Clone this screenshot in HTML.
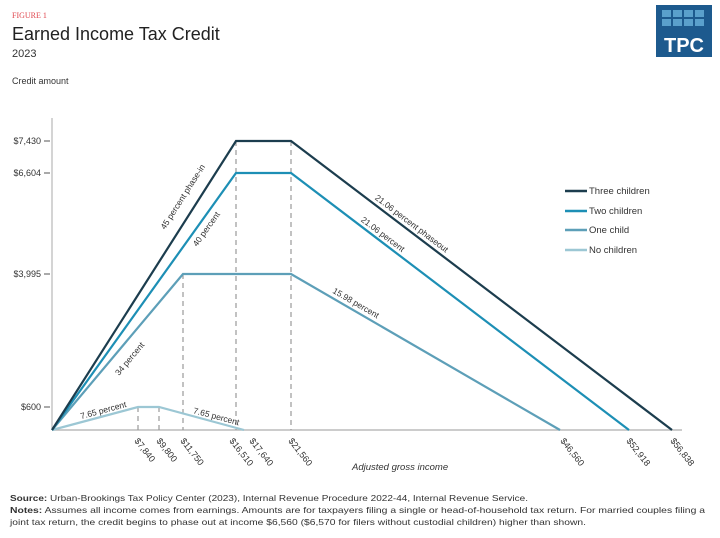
<!DOCTYPE html>
<html><head><meta charset="utf-8"><style>
body{margin:0;background:#fff;}
svg{display:block;font-family:"Liberation Sans",sans-serif;}
</style></head><body>
<svg width="720" height="538" viewBox="0 0 720 538">
<text x="12" y="18" font-size="8" fill="#e0464e" font-family="Liberation Serif,serif">FIGURE 1</text>
<text x="12" y="40" font-size="18" fill="#222">Earned Income Tax Credit</text>
<text x="12" y="57" font-size="11" fill="#333">2023</text>
<text x="12" y="84" font-size="9" fill="#333">Credit amount</text>
<rect x="656" y="5" width="56" height="52" fill="#1d5a8e"/>
<g fill="#5aa0cc">
<rect x="662" y="10" width="9" height="7"/><rect x="673" y="10" width="9" height="7"/><rect x="684" y="10" width="9" height="7"/><rect x="695" y="10" width="9" height="7"/>
<rect x="662" y="19" width="9" height="7"/><rect x="673" y="19" width="9" height="7"/><rect x="684" y="19" width="9" height="7"/><rect x="695" y="19" width="9" height="7"/>
</g>
<text x="684" y="52" font-size="20" font-weight="bold" fill="#fff" text-anchor="middle">TPC</text>
<line x1="52" y1="118" x2="52" y2="430" stroke="#aaa" stroke-width="1"/>
<line x1="52" y1="430" x2="682" y2="430" stroke="#bbb" stroke-width="1.5"/>
<g stroke="#555" stroke-width="1"><line x1="44" y1="141" x2="50" y2="141"/><line x1="44" y1="173" x2="50" y2="173"/><line x1="44" y1="274" x2="50" y2="274"/><line x1="44" y1="407" x2="50" y2="407"/></g>
<g font-size="9" fill="#333" text-anchor="end"><text x="41" y="144">$7,430</text><text x="41" y="176">$6,604</text><text x="41" y="277">$3,995</text><text x="41" y="410">$600</text></g>
<g stroke="#9a9a9a" stroke-dasharray="5,4" stroke-width="1.2">
<line x1="138" y1="407" x2="138" y2="430"/><line x1="159" y1="407" x2="159" y2="430"/><line x1="183" y1="274" x2="183" y2="430"/><line x1="236" y1="141" x2="236" y2="430"/><line x1="291" y1="141" x2="291" y2="430"/>
</g>
<g fill="none" stroke-width="2.2">
<polyline points="52,430 138,407 159,407 244,430" stroke="#9cc7d4"/>
<polyline points="52,430 183,274 291,274 560,430" stroke="#5d9fb8"/>
<polyline points="52,430 236,173 291,173 629,430" stroke="#1d8fb5"/>
<polyline points="52,430 236,141 291,141 672,430" stroke="#1c3d4e"/>
</g>
<g font-size="8.5" fill="#333">
<text transform="translate(165,230) rotate(-57.5)">45 percent phase-in</text>
<text transform="translate(197,247) rotate(-54.4)">40 percent</text>
<text transform="translate(119,376) rotate(-50)">34 percent</text>
<text transform="translate(82,422) rotate(-15)" dy="-3">7.65 percent</text>
<text transform="translate(192,416) rotate(15)" dy="-3">7.65 percent</text>
<text transform="translate(372,202) rotate(37.2)" dy="-4">21.06 percent phaseout</text>
<text transform="translate(358,224) rotate(37.2)" dy="-4">21.06 percent</text>
<text transform="translate(330,296) rotate(30.1)" dy="-4">15.98 percent</text>
</g>
<g font-size="9" fill="#333">
<text transform="translate(134,441) rotate(52)">$7,840</text>
<text transform="translate(156,441) rotate(52)">$9,800</text>
<text transform="translate(180,441) rotate(52)">$11,750</text>
<text transform="translate(229,441) rotate(52)">$16,510</text>
<text transform="translate(249,441) rotate(52)">$17,640</text>
<text transform="translate(288,441) rotate(52)">$21,560</text>
<text transform="translate(560,441) rotate(52)">$46,560</text>
<text transform="translate(626,441) rotate(52)">$52,918</text>
<text transform="translate(670,441) rotate(52)">$56,838</text>
</g>
<text x="352" y="470" font-size="9.5" font-style="italic" fill="#333">Adjusted gross income</text>
<g stroke-width="2.5"><line x1="565" y1="191" x2="587" y2="191" stroke="#1c3d4e"/><line x1="565" y1="211" x2="587" y2="211" stroke="#1d8fb5"/><line x1="565" y1="230" x2="587" y2="230" stroke="#5d9fb8"/><line x1="565" y1="250" x2="587" y2="250" stroke="#9cc7d4"/></g>
<g font-size="9.5" fill="#333"><text x="589" y="194">Three children</text><text x="589" y="214">Two children</text><text x="589" y="233">One child</text><text x="589" y="253">No children</text></g>
<g font-size="8.5" fill="#333">
<text x="10" y="501" textLength="518" lengthAdjust="spacingAndGlyphs"><tspan font-weight="bold">Source:</tspan> Urban-Brookings Tax Policy Center (2023), Internal Revenue Procedure 2022-44, Internal Revenue Service.</text>
<text x="10" y="513" textLength="695" lengthAdjust="spacingAndGlyphs"><tspan font-weight="bold">Notes:</tspan> Assumes all income comes from earnings. Amounts are for taxpayers filing a single or head-of-household tax return. For married couples filing a</text>
<text x="10" y="525" textLength="576" lengthAdjust="spacingAndGlyphs">joint tax return, the credit begins to phase out at income $6,560 ($6,570 for filers without custodial children) higher than shown.</text>
</g>
</svg>
</body></html>
